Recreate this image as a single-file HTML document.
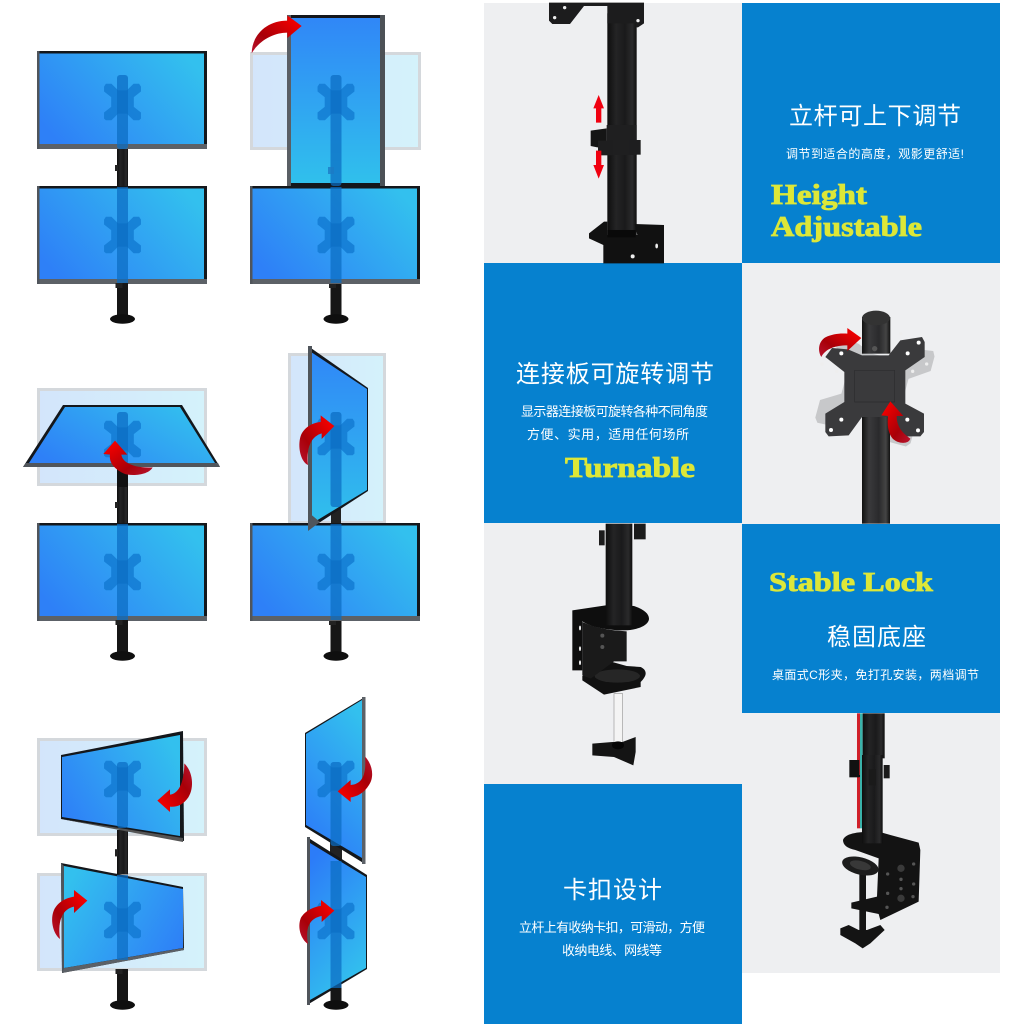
<!DOCTYPE html>
<html lang="zh-CN"><head><meta charset="utf-8"><title>Monitor Stand</title>
<style>html,body{margin:0;padding:0;background:#fff}svg{display:block}
.cn{font-family:"Liberation Sans","Noto Sans CJK SC",sans-serif;fill:#fff}
.en{font-family:"Liberation Serif",serif;font-weight:bold;fill:#dde738;stroke:#dde738;stroke-width:.8}</style></head><body>
<svg xmlns="http://www.w3.org/2000/svg" width="1024" height="1024" viewBox="0 0 1024 1024">
<defs>
<linearGradient id="sc" x1="0" y1=".75" x2="1" y2=".25"><stop offset="0" stop-color="#2e80f7"/><stop offset="1" stop-color="#33c0ee"/></linearGradient>
<linearGradient id="sr" x1="1" y1=".75" x2="0" y2=".25"><stop offset="0" stop-color="#2e80f7"/><stop offset="1" stop-color="#33c0ee"/></linearGradient>
<linearGradient id="sv" x1=".7" y1="0" x2=".3" y2="1"><stop offset="0" stop-color="#33c0ee"/><stop offset="1" stop-color="#2c7cf8"/></linearGradient>
<linearGradient id="svb" x1=".3" y1="0" x2=".7" y2="1"><stop offset="0" stop-color="#2c7cf8"/><stop offset="1" stop-color="#33c5ed"/></linearGradient>
<linearGradient id="pv" x1="0" y1="0" x2="0" y2="1"><stop offset="0" stop-color="#3087f7"/><stop offset="1" stop-color="#30c0ec"/></linearGradient>
<linearGradient id="gh" x1="0" y1="0" x2="1" y2="0"><stop offset="0" stop-color="#d3e5fb"/><stop offset="1" stop-color="#d4f2fb"/></linearGradient>
<linearGradient id="red" x1="0" y1="1" x2="1" y2="0"><stop offset="0" stop-color="#b81430"/><stop offset=".35" stop-color="#a80008"/><stop offset=".85" stop-color="#f00000"/></linearGradient>
<linearGradient id="red2" x1="1" y1="1" x2="0" y2="0"><stop offset="0" stop-color="#b81430"/><stop offset=".35" stop-color="#a80008"/><stop offset=".85" stop-color="#f00000"/></linearGradient>
<linearGradient id="red3" x1="1" y1="0" x2="0" y2="1"><stop offset="0" stop-color="#b81430"/><stop offset=".35" stop-color="#a80008"/><stop offset=".85" stop-color="#f00000"/></linearGradient>
<linearGradient id="pole" x1="0" y1="0" x2="1" y2="0"><stop offset="0" stop-color="#0e0e0e"/><stop offset=".3" stop-color="#242425"/><stop offset=".6" stop-color="#1a1a1b"/><stop offset=".85" stop-color="#2a2a2b"/><stop offset="1" stop-color="#0e0e0e"/></linearGradient>
<linearGradient id="pole2" x1="0" y1="0" x2="1" y2="0"><stop offset="0" stop-color="#111"/><stop offset=".25" stop-color="#3a3a3c"/><stop offset=".6" stop-color="#2a2a2c"/><stop offset=".85" stop-color="#444"/><stop offset="1" stop-color="#111"/></linearGradient>
<path id="plate" d="M-150,-125L-135,-148L-90,-148L-35,-95L35,-95L90,-148L135,-148L150,-125L150,-85L92,-40L92,40L150,85L150,135L135,148L90,148L35,95L-35,95L-90,148L-135,148L-150,135L-150,85L-92,40L-92,-40L-150,-85Z"/>
<path id="plate2" d="M-148,-89L-128,-116L-80,-112L-38,-94L42,-94L77,-139L142,-149L150,-134L150,-89L92,-49L92,51L148,81L148,136L137,149L77,149L42,91L-38,91L-78,146L-138,149L-148,136L-148,81L-91,46L-91,-44Z"/>
<g id="m">
<rect width="170" height="98" fill="#14171b"/><rect y="93" width="170" height="5" fill="#5c6167"/><rect width="2.500" height="98" fill="#50555b"/>
<rect x="2.500" y="2.500" width="164.500" height="90.500" fill="url(#sc)"/>
</g>
<use id="pl" href="#plate" transform="scale(.123)" fill="#0d74cc" opacity=".7"/>
<g id="base">
<rect x="-5.500" y="0" width="11" height="36" fill="#161616"/><rect x="-7" y="0" width="7" height="5" fill="#222"/>
<ellipse cx="0" cy="36" rx="12.500" ry="4.700" fill="#0f0f0f"/>
</g>
<g id="mid"><rect x="-5.500" y="0" width="11" height="37" fill="url(#pole)"/><rect x="-7.500" y="16" width="3" height="6" fill="#222"/></g>
</defs>

<rect width="1024" height="1024" fill="#fff"/>

<!-- Row 1 col 1 -->
<use href="#mid" transform="translate(122.5,149)"/>
<use href="#m" x="37" y="51"/><use href="#pl" transform="translate(122.5,102)"/><rect x="117" y="75" width="11" height="74" rx="3" fill="#0b6cc2" opacity=".72"/>
<use href="#m" x="37" y="186"/><use href="#pl" transform="translate(122.5,235)"/><rect x="117" y="187" width="11" height="96" fill="#0b6cc2" opacity=".72"/>
<use href="#base" transform="translate(122.5,283)"/>
<!-- Row 1 col 2 -->
<rect x="251.500" y="53.500" width="168" height="95" fill="url(#gh)" stroke="#d4d8dc" stroke-width="3"/>
<use href="#base" transform="translate(336,283)"/>
<rect x="287" y="15" width="98" height="171" fill="#14171b"/><rect x="287" y="15" width="4" height="171" fill="#5a5f65"/><rect x="380" y="15" width="5" height="171" fill="#4c5156"/>
<rect x="291" y="18" width="89" height="165" fill="url(#pv)"/>
<use href="#pl" transform="translate(336,102)"/><rect x="330.500" y="75" width="11" height="111" rx="3" fill="#0b6cc2" opacity=".72"/>
<rect x="328" y="167" width="6" height="7" fill="#1b7bc5" opacity=".8"/>
<use href="#m" x="250" y="186"/><use href="#pl" transform="translate(336,235)"/><rect x="330.500" y="187" width="11" height="96" fill="#0b6cc2" opacity=".72"/>

<!-- Row 2 col 1 -->
<rect x="38.500" y="389.500" width="167" height="95" fill="url(#gh)" stroke="#d4d8dc" stroke-width="3"/>
<use href="#mid" transform="translate(122.5,486)"/>
<polygon points="63,405 182,405 220,467 23,467" fill="#14171b"/>
<polygon points="65,407 180,407 215,463 29,463" fill="url(#sc)"/>
<polygon points="23,467 220,467 218,463 26,463" fill="#50555b"/>
<use href="#pl" transform="translate(122.5,439)"/><rect x="117" y="412" width="11" height="55" rx="3" fill="#0b6cc2" opacity=".72"/>
<rect x="117" y="467" width="11" height="20" fill="#111"/>
<use href="#m" x="37" y="523"/><use href="#pl" transform="translate(122.5,572)"/><rect x="117" y="524" width="11" height="96" fill="#0b6cc2" opacity=".72"/>
<use href="#base" transform="translate(122.5,620)"/>
<!-- Row 2 col 2 -->
<rect x="289.500" y="354.500" width="95" height="168" fill="url(#gh)" stroke="#d4d8dc" stroke-width="3"/>
<use href="#base" transform="translate(336,620)"/>
<rect x="331" y="505" width="10" height="20" fill="#222"/>
<polygon points="308,346 368,388 368,491 308,530" fill="#14171b"/>
<polygon points="311,352 367,389 367,490 311,524" fill="url(#pv)"/>
<use href="#pl" transform="translate(336,437)"/><rect x="330.500" y="412" width="11" height="95" rx="3" fill="#0b6cc2" opacity=".72"/>
<rect x="308" y="346" width="4" height="184" fill="#4f555b"/>
<use href="#m" x="250" y="523"/><use href="#pl" transform="translate(336,572)"/><rect x="330.500" y="524" width="11" height="96" fill="#0b6cc2" opacity=".72"/>
<polygon points="308,512 320,522 308,531" fill="#4f555b"/>

<!-- Row 3 col 1 -->
<rect x="38.500" y="739.500" width="167" height="95" fill="url(#gh)" stroke="#d4d8dc" stroke-width="3"/>
<rect x="38.500" y="874.500" width="167" height="95" fill="url(#gh)" stroke="#d4d8dc" stroke-width="3"/>
<use href="#mid" transform="translate(122.5,830) scale(1,1.2)"/>
<use href="#base" transform="translate(122.500,969)"/>
<polygon points="61,755 183,731 184,841 61,819" fill="#14171b"/>
<polygon points="62,757 180,735 180,836 62,817" fill="url(#sc)"/>
<polygon points="61,819 183,838 183,842" fill="#555"/>
<use href="#pl" transform="translate(122.5,779)"/><rect x="117" y="762" width="11" height="66" rx="3" fill="#0b6cc2" opacity=".72"/>
<polygon points="61,863 183,887 184,950 62,973" fill="#14171b"/>
<polygon points="64,866 183,889 183,948 64,968" fill="url(#sr)"/>
<polygon points="61,863 64,866 64,968 62,973" fill="#4f555b"/>
<polygon points="62,973 184,950 184,948 64,968" fill="#5c6167"/>
<use href="#pl" transform="translate(122.500,920)"/><rect x="117" y="875" width="11" height="85" fill="#0b6cc2" opacity=".72"/>
<!-- Row 3 col 2 -->
<use href="#base" transform="translate(336,969)"/>
<rect x="330" y="840" width="12" height="20" fill="#222"/>
<polygon points="305,733 365,697 365,864 305,827" fill="#14171b"/>
<polygon points="306,734 362,700 362,858 306,825" fill="url(#sv)"/>
<rect x="362" y="697" width="3.500" height="167" fill="#5c6167"/>
<use href="#pl" transform="translate(336,779)"/><rect x="330.500" y="762" width="11" height="84" rx="3" fill="#0b6cc2" opacity=".72"/>
<polygon points="307,837 367,875 367,969 307,1005" fill="#14171b"/>
<polygon points="310,843 366,877 366,968 310,1000" fill="url(#svb)"/>
<rect x="307" y="837" width="3" height="168" fill="#50555b"/>
<use href="#pl" transform="translate(336,921)"/><rect x="330.500" y="861" width="11" height="127" fill="#0b6cc2" opacity=".72"/>

<!-- Arrows in left column -->
<g transform="scale(.33333)">
<path fill="url(#red)" d="M755,160C756,105 800,62 862,62L862,46L905,78L862,114L862,98C825,98 780,118 755,160Z"/>
</g>
<g transform="translate(0,340) scale(.33333)">
<path fill="url(#red2)" d="M345,302L382,344L364,344C368,370 405,385 458,382C448,402 405,410 375,402C345,390 326,368 330,344L310,342Z"/>
<path fill="url(#red)" d="M1003,258L965,297L965,280C938,288 918,315 924,375C902,365 892,320 902,288C912,262 938,248 962,246L962,226Z"/>
</g>
<g transform="translate(0,684) scale(.33333)">
<path fill="url(#red3)" d="M472,350L510,316L510,332C535,328 552,300 553,238C578,262 584,310 565,340C550,362 530,370 510,368L510,384Z"/>
<path fill="url(#red)" d="M262,650L222,687L222,668C190,675 172,705 180,765C158,748 150,705 162,678C175,652 200,642 222,638L222,618Z"/>
<path fill="url(#red3)" d="M1013,322L1052,288L1052,303C1085,300 1100,275 1095,218C1117,240 1124,278 1107,303C1092,328 1070,338 1052,340L1052,354Z"/>
<path fill="url(#red)" d="M1003,680L965,714L965,696C935,702 914,722 924,780C902,765 892,730 902,703C913,682 940,668 963,666L963,648Z"/>
</g>

<!-- Right panels -->
<rect x="484" y="3" width="258" height="260" fill="#eeeff1"/>
<rect x="742" y="3" width="258" height="260" fill="#0681cf"/>
<rect x="484" y="263" width="258" height="260" fill="#0681cf"/>
<rect x="742" y="263" width="258" height="261" fill="#eeeff1"/>
<rect x="484" y="523" width="258" height="261" fill="#eeeff1"/>
<rect x="742" y="524" width="258" height="189" fill="#0681cf"/>
<rect x="484" y="784" width="258" height="240" fill="#0681cf"/>
<rect x="742" y="713" width="258" height="260" fill="#eeeff1"/>

<!-- Pane 1 -->
<g transform="translate(484,0) scale(.33333)">
<rect x="370" y="40" width="88" height="670" fill="url(#pole)"/>
<path d="M195,8L480,8L480,70L462,82L455,82L455,70L370,70L370,18L300,18L258,72L205,72L195,62Z" fill="#1c1c1d"/>
<circle cx="242" cy="23" r="5" fill="#eee"/><circle cx="212" cy="53" r="5" fill="#eee"/><circle cx="462" cy="62" r="5" fill="#eee"/>
<rect x="368" y="375" width="90" height="90" fill="#1f1f20"/>
<path d="M320,392L368,385L368,440L340,442L320,438Z" fill="#151515"/>
<rect x="342" y="422" width="45" height="44" fill="#1e1e1f"/><rect x="438" y="420" width="32" height="44" fill="#1e1e1f"/>
<path d="M315,700L360,665L370,665L370,705L460,705L452,672L540,675L540,790L358,790L358,735L315,715Z" fill="#111"/>
<rect x="370" y="690" width="85" height="22" fill="#090909"/>
<circle cx="446" cy="769" r="6" fill="#eee"/><ellipse cx="518" cy="738" rx="4" ry="7" fill="#eee"/>
<g fill="#f00010"><path d="M344,285L360,325L352,325L352,368L336,368L336,325L328,325Z"/><path d="M344,536L360,495L352,495L352,452L336,452L336,495L328,495Z"/></g>
</g>

<!-- Pane 2 -->
<g transform="translate(742,262) scale(.33333)">
<g transform="translate(398,374) rotate(15)"><use href="#plate2" fill="#c7c8ca"/></g>
<rect x="360" y="165" width="85" height="110" fill="url(#pole2)"/>
<ellipse cx="402" cy="168" rx="42" ry="22" fill="#333"/>
<circle cx="398" cy="260" r="8" fill="#555"/>
<rect x="360" y="460" width="84" height="325" fill="url(#pole2)"/>
<g transform="translate(398,374)"><use href="#plate2" fill="#3a3a3c"/></g>
<g fill="#fff"><circle cx="298" cy="274" r="6"/><circle cx="240" cy="306" r="5" fill="#eee"/><circle cx="284" cy="328" r="5" fill="#eee"/><circle cx="497" cy="274" r="6"/><circle cx="530" cy="242" r="6"/><circle cx="298" cy="473" r="6"/><circle cx="267" cy="504" r="6"/><circle cx="496" cy="473" r="6"/><circle cx="528" cy="505" r="6"/><circle cx="554" cy="306" r="5" fill="#eee"/><circle cx="512" cy="328" r="5" fill="#eee"/><circle cx="476" cy="215" r="5" fill="#eee"/></g>
<path d="M338,325L458,325L458,420L338,420Z" fill="none" stroke="#2c2c2e" stroke-width="2"/>
<path fill="url(#red)" d="M358,228L316,267L316,250C280,250 250,260 238,285C226,265 230,238 250,226C270,216 295,213 316,215L316,198Z"/>
<path fill="url(#red2)" d="M445,418L484,462L464,462C464,490 477,510 505,530C500,547 470,547 452,530C436,510 436,485 438,462L418,460Z"/>
</g>

<!-- Pane 3 -->
<g transform="translate(484,522) scale(.33333)">
<rect x="390" y="515" width="26" height="150" fill="#f4f4f4" stroke="#9a9a9a" stroke-width="2"/>
<path d="M295,462L385,420L428,432L470,435C490,445 490,460 470,480L470,495L360,518L295,475Z" fill="#111"/>
<ellipse cx="400" cy="462" rx="68" ry="20" fill="#262626"/>
<path d="M295,300C340,320 380,325 428,328L428,418L390,418L320,470L295,460Z" fill="#1a1a1a"/>
<path d="M265,265L380,248L450,252C480,262 495,275 495,290C495,310 460,325 420,325C370,325 320,315 295,298L295,445L265,445Z" fill="#0e0e0e"/>
<rect x="365" y="5" width="80" height="305" fill="url(#pole)"/>
<rect x="345" y="25" width="17" height="45" fill="#1c1c1c"/><rect x="450" y="5" width="35" height="47" fill="#1c1c1c"/>
<g fill="#eee"><ellipse cx="288" cy="318" rx="3" ry="7"/><ellipse cx="288" cy="380" rx="3" ry="7"/><ellipse cx="288" cy="422" rx="3" ry="7"/></g>
<g fill="#555"><circle cx="355" cy="341" r="6"/><circle cx="355" cy="375" r="6"/></g>
<path d="M325,665L385,660L415,660L455,645L455,690L448,730L390,705L325,700Z" fill="#141414"/>
<ellipse cx="402" cy="670" rx="18" ry="12" fill="#050505"/>
</g>

<!-- Pane 4 -->
<g transform="translate(742,710) scale(.33333)">
<rect x="345" y="10" width="9" height="345" fill="#d0202a"/><rect x="354" y="10" width="8" height="345" fill="#3ab3aa"/>
<rect x="352" y="490" width="20" height="175" fill="#141414"/>
<path d="M303,390C310,372 340,365 400,365L420,368L530,398L535,420L530,575L415,630L410,612L328,595L328,578L405,560L410,445L340,420C315,415 303,405 303,390Z" fill="#131313"/>
<rect x="362" y="10" width="66" height="135" fill="url(#pole)"/>
<rect x="360" y="135" width="62" height="265" fill="url(#pole)"/>
<rect x="322" y="150" width="30" height="52" fill="#111"/><rect x="380" y="178" width="22" height="48" fill="#1a1a1a"/><rect x="425" y="165" width="18" height="40" fill="#1a1a1a"/>
<rect x="340" y="195" width="14" height="6" fill="#111"/>
<ellipse cx="355" cy="468" rx="56" ry="26" transform="rotate(14 355 468)" fill="#1c1c1c"/>
<ellipse cx="355" cy="466" rx="32" ry="13" transform="rotate(14 355 466)" fill="#383838"/>
<g fill="#555"><circle cx="437" cy="492" r="5"/><circle cx="477" cy="508" r="5"/><circle cx="515" cy="462" r="5"/><circle cx="515" cy="522" r="5"/><circle cx="437" cy="550" r="5"/><circle cx="477" cy="536" r="5"/><circle cx="513" cy="560" r="5"/><circle cx="435" cy="592" r="5"/><circle cx="477" cy="475" r="11" fill="#3a3a3a"/><circle cx="477" cy="565" r="11" fill="#3a3a3a"/></g>
<path d="M295,655L320,645L350,660L375,660L415,645L428,660L385,700L362,715L340,700L295,675Z" fill="#141414"/>
</g>

<!-- Text -->
<g class="cn" lang="zh-CN">
<text class="cn" x="789" y="124" font-size="24" textLength="172" lengthAdjust="spacing">立杆可上下调节</text>
<text class="cn" x="786" y="158" font-size="12" textLength="178" lengthAdjust="spacing">调节到适合的高度，观影更舒适!</text>
<text class="cn" x="516" y="382" font-size="24" textLength="198" lengthAdjust="spacing">连接板可旋转调节</text>
<text class="cn" x="521" y="416" font-size="13" textLength="187" lengthAdjust="spacing">显示器连接板可旋转各种不同角度</text>
<text class="cn" x="527" y="439" font-size="13" textLength="162" lengthAdjust="spacing">方便、实用，适用任何场所</text>
<text class="cn" x="827" y="645" font-size="24" textLength="99" lengthAdjust="spacing">稳固底座</text>
<text class="cn" x="772" y="679" font-size="12" textLength="207" lengthAdjust="spacing">桌面式C形夹，免打孔安装，两档调节</text>
<text class="cn" x="563" y="898" font-size="24" textLength="99" lengthAdjust="spacing">卡扣设计</text>
<text class="cn" x="519" y="932" font-size="13" textLength="186" lengthAdjust="spacing">立杆上有收纳卡扣，可滑动，方便</text>
<text class="cn" x="562" y="955" font-size="13" textLength="100" lengthAdjust="spacing">收纳电线、网线等</text>
</g>
<text class="en" x="771" y="204" font-size="28" textLength="96" lengthAdjust="spacingAndGlyphs">Height</text>
<text class="en" x="771" y="236" font-size="28" textLength="151" lengthAdjust="spacingAndGlyphs">Adjustable</text>
<text class="en" x="565" y="477" font-size="28" textLength="130" lengthAdjust="spacingAndGlyphs">Turnable</text>
<text class="en" x="769" y="591" font-size="27" textLength="164" lengthAdjust="spacingAndGlyphs">Stable Lock</text>
</svg>
</body></html>
